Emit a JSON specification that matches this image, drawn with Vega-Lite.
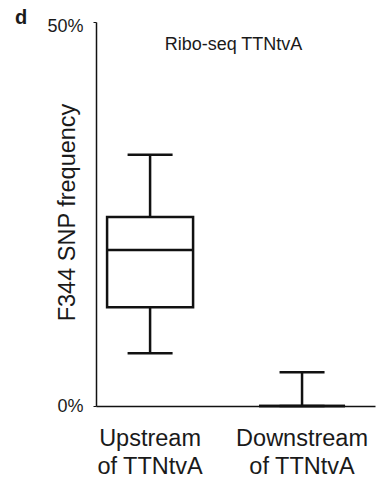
{
  "$schema": "https://vega.github.io/schema/vega-lite/v6.json",
  "width": 279,
  "height": 384,
  "autosize": {"type": "none"},
  "padding": {"left": 96, "top": 22, "right": 10, "bottom": 76},
  "background": "white",
  "config": {
    "view": {"stroke": null},
    "font": "Liberation Sans",
    "axis": {"grid": false, "domainColor": "#111", "tickColor": "#111", "labelColor": "#1a1a1a", "titleColor": "#1a1a1a", "labelFont": "Liberation Sans", "titleFont": "Liberation Sans"}
  },
  "title": {"text": "Ribo-seq TTNtvA", "anchor": "middle", "frame": "group", "offset": -46, "fontSize": 18, "fontWeight": "normal", "font": "Liberation Sans", "color": "#1a1a1a", "dx": -2},
  "data": {"values": [
    {"group": "Upstream of TTNtvA", "lower": 0.0686, "q1": 0.1285, "median": 0.203, "q3": 0.246, "upper": 0.327},
    {"group": "Downstream of TTNtvA", "lower": 0.0, "q1": 0.0, "median": 0.0, "q3": 0.0, "upper": 0.044}
  ]},
  "encoding": {
    "x": {
      "field": "group", "type": "nominal", "sort": null,
      "scale": {"paddingInner": 0.434, "paddingOuter": 0.135, "align": 0.27},
      "axis": {
        "title": null, "ticks": false, "labelAngle": 0, "labelFontSize": 23.5, "labelPadding": 20, "labelLineHeight": 28,
        "labelExpr": "[split(datum.label, ' of ')[0], 'of ' + split(datum.label, ' of ')[1]]",
        "domainWidth": 1.5
      }
    }
  },
  "layer": [
    {
      "mark": {"type": "rule", "stroke": "#111", "strokeWidth": 2.5},
      "encoding": {
        "y": {"field": "lower", "type": "quantitative", "scale": {"domain": [0, 0.5]},
          "axis": {"title": "F344 SNP frequency", "values": [0, 0.5], "format": ".0%", "labelFontSize": 18, "labelPadding": 10, "labelOffset": {"condition": {"test": "datum.value == 0.5", "value": 4}, "value": 0}, "tickSize": 3, "domainWidth": 1.5, "titleFontSize": 23.5, "titleFontWeight": "normal", "titleAngle": -90, "titleBaseline": "bottom", "titleAlign": "center", "titleX": -17, "titleY": 190}},
        "y2": {"field": "upper"}
      }
    },
    {
      "mark": {"type": "bar", "fill": "white", "stroke": "#111", "strokeWidth": 2.5, "size": 86},
      "encoding": {"y": {"field": "q1", "type": "quantitative"}, "y2": {"field": "q3"}}
    },
    {
      "mark": {"type": "tick", "color": "#111", "opacity": 1, "size": 86, "thickness": 2.5},
      "encoding": {"y": {"field": "median", "type": "quantitative"}}
    },
    {
      "mark": {"type": "tick", "color": "#111", "opacity": 1, "size": 45, "thickness": 2.5},
      "encoding": {"y": {"field": "upper", "type": "quantitative"}}
    },
    {
      "mark": {"type": "tick", "color": "#111", "opacity": 1, "size": 45, "thickness": 2.5},
      "encoding": {"y": {"field": "lower", "type": "quantitative"}}
    },
    {
      "data": {"values": [{"panel": "d"}]},
      "mark": {"type": "text", "fontSize": 20, "fontWeight": "bold", "color": "#1a1a1a", "align": "center", "baseline": "middle", "dx": -129, "dy": -4},
      "encoding": {
        "x": {"datum": "Upstream of TTNtvA"},
        "y": {"datum": 0.5, "type": "quantitative"},
        "text": {"field": "panel"}
      }
    }
  ]
}
